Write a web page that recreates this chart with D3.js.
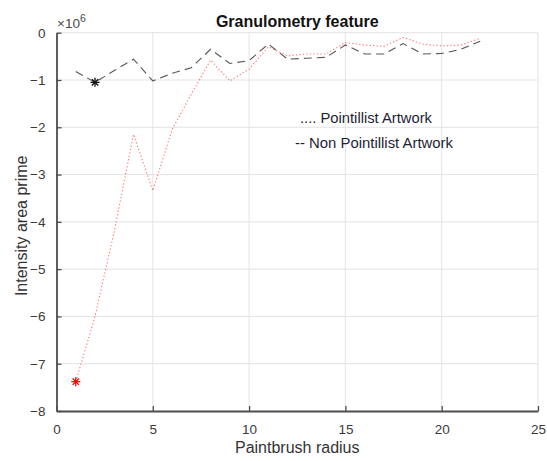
<!DOCTYPE html>
<html>
<head>
<meta charset="utf-8">
<script src="https://cdn.jsdelivr.net/npm/d3@7"></script>
<style>
  body { margin: 0; background: #fff; }
  svg { display: block; font-family: "Liberation Sans", Arial, sans-serif; }
</style>
</head>
<body>
<svg id="chart" width="547" height="461"></svg>
<script>
// Paintbrush radii and granulometry curves (in units of 1e6)
const radius = [1, 2, 3, 4, 5, 6, 7, 8, 9, 10, 11, 12, 13, 14, 15, 16, 17, 18, 19, 20, 21, 22];
const pointillist = [-7.38, -6.0, -4.2, -2.15, -3.34, -2.05, -1.3, -0.58, -1.02, -0.77, -0.3, -0.49,
                     -0.45, -0.45, -0.21, -0.26, -0.29, -0.1, -0.24, -0.28, -0.26, -0.12];
const nonPointillist = [-0.82, -1.05, -0.8, -0.56, -1.02, -0.86, -0.74, -0.35, -0.65, -0.59, -0.24, -0.56,
                        -0.54, -0.52, -0.26, -0.45, -0.45, -0.23, -0.45, -0.44, -0.35, -0.18];
const xTicks = [0, 5, 10, 15, 20, 25];
const yTicks = [0, -1, -2, -3, -4, -5, -6, -7, -8];
const legendLines = [".... Pointillist Artwork", "-- Non Pointillist Artwork"];

const svg = d3.select("#chart");
const m = { left: 56.5, right: 538, top: 32.7, bottom: 411 };

const x = d3.scaleLinear().domain([0, 25]).range([m.left, m.right]);
const y = d3.scaleLinear().domain([-8, 0]).range([m.bottom, m.top]);

// grid
const grid = svg.append("g").attr("stroke", "#e3e3e3").attr("stroke-width", 1);
grid.selectAll("line.gx").data(xTicks.filter(d => d > 0)).join("line")
  .attr("x1", d => x(d)).attr("x2", d => x(d))
  .attr("y1", m.top).attr("y2", m.bottom);
grid.selectAll("line.gy").data(yTicks.filter(d => d > -8)).join("line")
  .attr("x1", m.left).attr("x2", m.right)
  .attr("y1", d => y(d)).attr("y2", d => y(d));

// axes with inward ticks
const axisColor = "#4d4d4d";
const xAxis = svg.append("g").attr("transform", `translate(0,${m.bottom})`)
  .call(d3.axisBottom(x).tickValues(xTicks).tickSizeInner(-5).tickSizeOuter(0).tickPadding(13));
const yAxis = svg.append("g").attr("transform", `translate(${m.left},0)`)
  .call(d3.axisLeft(y).tickValues(yTicks).tickSizeInner(-5).tickSizeOuter(0).tickPadding(11));
[xAxis, yAxis].forEach(a => {
  a.select(".domain").attr("stroke", axisColor).attr("stroke-width", 1.8);
  a.selectAll(".tick line").attr("stroke", axisColor).attr("stroke-width", 1.3);
  a.selectAll(".tick text").attr("fill", "#3a3a3a").attr("font-size", 13.5)
    .attr("font-family", "Liberation Sans, Arial, sans-serif");
});

// series
const line = d3.line().x((d, i) => x(radius[i])).y(d => y(d));
svg.append("path").datum(pointillist)
  .attr("d", line).attr("fill", "none")
  .attr("stroke", "#ff3b3b").attr("stroke-opacity", 0.7)
  .attr("stroke-width", 1.1).attr("stroke-dasharray", "1.3,2.2");
svg.append("path").datum(nonPointillist)
  .attr("d", line).attr("fill", "none")
  .attr("stroke", "#3a3a3a").attr("stroke-opacity", 0.85)
  .attr("stroke-width", 1.1).attr("stroke-dasharray", "8,5");

// asterisk markers
function asterisk(cx, cy, r, color) {
  const g = svg.append("g").attr("stroke", color).attr("stroke-width", 1.3);
  const k = r * Math.SQRT1_2;
  [[0, -r, 0, r], [-r, 0, r, 0], [-k, -k, k, k], [-k, k, k, -k]].forEach(s =>
    g.append("line").attr("x1", cx + s[0]).attr("y1", cy + s[1])
      .attr("x2", cx + s[2]).attr("y2", cy + s[3]));
}
asterisk(x(radius[0]), y(pointillist[0]), 4.5, "#ff0000");
asterisk(x(radius[1]), y(nonPointillist[1]), 4.5, "#111");

// title, exponent, axis labels
svg.append("text").attr("x", (m.left + m.right) / 2).attr("y", 27)
  .attr("text-anchor", "middle").attr("font-weight", "bold").attr("font-size", 16)
  .attr("fill", "#111").text("Granulometry feature");

const ex = svg.append("text").attr("x", 57).attr("y", 28).attr("fill", "#4a4a4a").attr("font-size", 13.5);
ex.append("tspan").text("×10");
ex.append("tspan").attr("dy", -6).attr("font-size", 10.5).text("6");

svg.append("text").attr("x", (m.left + m.right) / 2).attr("y", 453)
  .attr("text-anchor", "middle").attr("font-size", 16).attr("fill", "#333")
  .text("Paintbrush radius");
svg.append("text").attr("transform", `translate(27,${(m.top + m.bottom) / 2 + 4}) rotate(-90)`)
  .attr("text-anchor", "middle").attr("font-size", 16).attr("fill", "#333")
  .text("Intensity area prime");

// legend text annotations
svg.selectAll("text.leg").data(legendLines).join("text")
  .attr("class", "leg")
  .attr("x", (d, i) => i === 0 ? 300 : 295)
  .attr("y", (d, i) => i === 0 ? 122.7 : 148.3)
  .attr("font-size", 14).attr("fill", "#1e1e34")
  .attr("textLength", (d, i) => i === 0 ? 132 : 158)
  .attr("lengthAdjust", "spacingAndGlyphs")
  .text(d => d);
</script>
</body>
</html>
